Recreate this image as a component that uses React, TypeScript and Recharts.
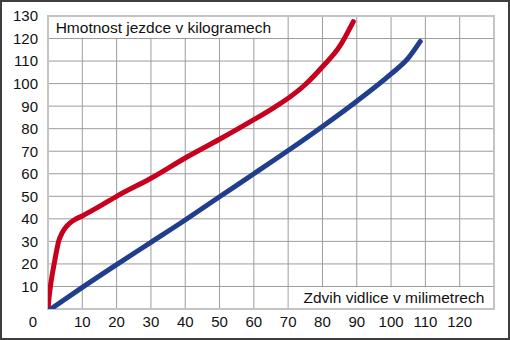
import React from 'react'
import { LineChart, Line, XAxis, YAxis, CartesianGrid, ReferenceArea } from 'recharts'

// fork travel (mm) vs. rider mass (kg)
const redTravel = [0, 0.3, 0.7, 1.2, 1.8, 2.4, 3.1, 4.2, 5.6, 7.4, 10, 15, 20, 30, 40, 50, 60, 66, 70, 75, 80, 85, 89]
const redMass = [0, 5, 10, 15, 20, 25, 30, 34, 37, 39.3, 41.3, 45.5, 50, 58, 67, 75.3, 84, 89.5, 93.5, 99.6, 107.5, 116.5, 127.5]

const blueTravel = [0.8, 10, 20, 30, 40, 50, 60, 70, 80, 90, 100, 105, 108.5]
const blueMass = [0, 9.6, 19.7, 29.6, 39.5, 49.8, 60, 70.3, 81, 92.2, 104.3, 111.3, 118.7]

const xTicks = [0, 10, 20, 30, 40, 50, 60, 70, 80, 90, 100, 110, 120, 130]
const yTicks = [0, 10, 20, 30, 40, 50, 60, 70, 80, 90, 100, 110, 120, 130]

const yTitle = 'Hmotnost jezdce v kilogramech'
const xTitle = 'Zdvih vidlice v milimetrech'

const redData = redTravel.map((x, i) => ({ x, y: redMass[i] }))
const blueData = blueTravel.map((x, i) => ({ x, y: blueMass[i] }))

const FONT = '"Liberation Sans", Arial, Helvetica, sans-serif'

const XTick = (props: any) => {
  const { x, y, payload } = props
  const v = payload.value
  if (v === 130) return null
  // origin label sits out in the corner
  const dx = v === 0 ? -15 : 0
  return (
    <text x={x + dx} y={y + 10} textAnchor="middle" fontSize={15} fill="#111" fontFamily={FONT}>
      {v}
    </text>
  )
}

const YTick = (props: any) => {
  const { y, payload } = props
  if (payload.value === 0) return null
  return (
    <text x={38} y={y + 5.4} textAnchor="end" fontSize={15} fill="#111" fontFamily={FONT}>
      {payload.value}
    </text>
  )
}

export default function App() {
  return (
    <div style={{
      position: 'absolute',
      left: 0,
      top: 0,
      width: 510,
      height: 340,
      background: 'white',
      boxShadow: 'inset 0 0 0 2px #3e3e3e',
    }}>
      <LineChart width={510} height={340} margin={{ top: 16, right: 16, bottom: 0, left: 0 }}>
        <CartesianGrid stroke="#9c9c9c" strokeWidth={1} />
        <XAxis
          type="number"
          dataKey="x"
          domain={[0, 130]}
          ticks={xTicks}
          interval={0}
          height={31}
          axisLine={false}
          tickLine={false}
          tick={<XTick />}
          allowDataOverflow
        />
        <YAxis
          type="number"
          dataKey="y"
          domain={[0, 130]}
          ticks={yTicks}
          interval={0}
          width={48}
          axisLine={false}
          tickLine={false}
          tick={<YTick />}
          allowDataOverflow
        />
        <ReferenceArea
          x1={0.2}
          x2={68.9}
          y1={120.3}
          y2={129.7}
          fill="white"
          fillOpacity={1}
          stroke="none"
          label={{ value: yTitle, position: 'insideLeft', offset: 7, fontSize: 15.5, fill: '#111', fontFamily: FONT }}
        />
        <ReferenceArea
          x1={70.2}
          x2={129.8}
          y1={0.3}
          y2={9.7}
          fill="white"
          fillOpacity={1}
          stroke="none"
          label={{ value: xTitle, position: 'insideRight', offset: 9, fontSize: 15.5, fill: '#111', fontFamily: FONT }}
        />
        <ReferenceArea x1={0} x2={130} y1={0} y2={130} fill="none" stroke="#c4c4c4" strokeWidth={2} />
        <Line
          data={redData}
          dataKey="y"
          type="monotone"
          stroke="#c8001e"
          strokeWidth={5}
          strokeLinecap="round"
          dot={false}
          isAnimationActive={false}
        />
        <Line
          data={blueData}
          dataKey="y"
          type="monotone"
          stroke="#213e8c"
          strokeWidth={5}
          strokeLinecap="round"
          dot={false}
          isAnimationActive={false}
        />
      </LineChart>
    </div>
  )
}
